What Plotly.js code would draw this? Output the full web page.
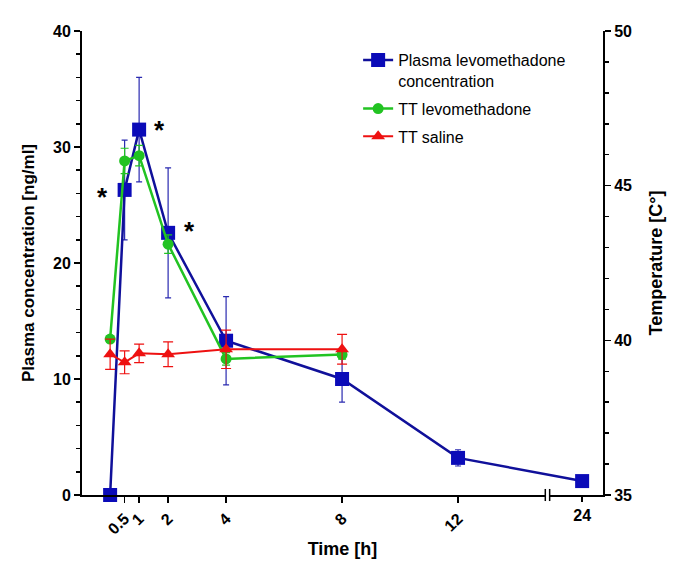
<!DOCTYPE html>
<html>
<head>
<meta charset="utf-8">
<script src="https://cdn.plot.ly/plotly-3.0.1.min.js"></script>
<style>html,body{margin:0;padding:0;background:#fff;}#chart{width:685px;height:573px;}</style>
</head>
<body>
<div id="chart"></div>
<script>
// ---- data ----
const plasmaTimes = [0, 0.5, 1, 2, 4, 8, 12, 24];
const plasmaConc = [0, 26.3, 31.5, 22.6, 13.3, 10.0, 3.2, 1.2];
const plasmaSD = [0, 4.3, 4.5, 5.6, 3.8, 2.0, 0.7, 0];

const ttTimes = [0, 0.5, 1, 2, 4, 8];
const ttLevo = [40.04, 45.80, 45.97, 43.11, 39.40, 39.54];
const ttLevoSD = [0.1, 0.41, 0.33, 0.3, 0.2, 0.15];
const ttSaline = [39.55, 39.29, 39.58, 39.55, 39.71, 39.71];
const ttSalineSD = [0.49, 0.37, 0.3, 0.4, 0.62, 0.48];

const mainTicks = [0.5, 1, 2, 4, 8, 12];
const mainTickText = ['0.5', '1', '2', '4', '8', '12'];
const farTicks = [24];
const farTickText = ['24'];

// significance marks: [time, value]
const starPoints = [[0.5, 26.3], [1, 31.5], [2, 22.6]];

// ---- broken axis transform ----
const BRK = 15.07, SQUEEZE = 0.1355;
function pos(t) { return t <= BRK ? t : BRK + (t - BRK) * SQUEEZE; }

const blue = '#0b0bb8', green = '#22c322', red = '#ee1111';
const FONT = 'Liberation Sans, Arial, sans-serif';

const traces = [
  {
    x: plasmaTimes.map(pos), y: plasmaConc, xaxis: 'x', yaxis: 'y',
    name: 'Plasma levomethadone<br>concentration', legendgroup: 'a',
    mode: 'lines+markers', cliponaxis: false,
    line: {color: '#10109a', width: 2.5},
    marker: {symbol: 'square', size: 14, color: blue},
    error_y: {type: 'data', array: plasmaSD, visible: true, color: '#2a2ab0', thickness: 1.2, width: 3}
  },
  {
    x: ttTimes.map(pos), y: ttLevo, xaxis: 'x', yaxis: 'y2',
    name: 'TT levomethadone', legendgroup: 'b',
    mode: 'lines+markers', cliponaxis: false,
    line: {color: green, width: 2.5},
    marker: {symbol: 'circle', size: 11, color: green},
    error_y: {type: 'data', array: ttLevoSD, visible: true, color: green, thickness: 1.2, width: 4}
  },
  {
    x: ttTimes.map(pos), y: ttSaline, xaxis: 'x', yaxis: 'y2',
    name: 'TT saline', legendgroup: 'c',
    mode: 'lines+markers', cliponaxis: false,
    line: {color: red, width: 2},
    marker: {symbol: 'triangle-up', size: 12, color: red},
    error_y: {type: 'data', array: ttSalineSD, visible: true, color: red, thickness: 1.2, width: 5}
  },
  // invisible helper trace anchoring the far-segment axis
  {
    x: farTicks.map(pos), y: [null], xaxis: 'x2', yaxis: 'y', showlegend: false,
    mode: 'markers', hoverinfo: 'skip', marker: {opacity: 0}
  }
];

const xRange = [-0.97, 17.0];
const tickFont = {family: FONT, size: 16, color: '#000', weight: 'bold'};
const titleFont = {family: FONT, size: 18, color: '#000', weight: 'bold'};

const annotations = starPoints.map((p, i) => ({
  x: pos(p[0]), y: p[1], xref: 'x', yref: 'y',
  text: '*', showarrow: false,
  xshift: [-22, 20, 21][i], yshift: [-7, 0, 2][i],
  font: {family: FONT, size: 26, color: '#000', weight: 'bold'}
}));

const gapL = pos(BRK) - 0.06, gapR = pos(BRK) + 0.09;
const shapes = [
  {type: 'rect', xref: 'x', yref: 'paper', x0: gapL, x1: gapR, y0: -0.006, y1: 0.006,
   fillcolor: '#fff', line: {width: 0}, layer: 'above'},
  {type: 'line', xref: 'x', yref: 'paper', x0: gapL, x1: gapL, y0: -0.013, y1: 0.013,
   line: {color: '#000', width: 1.5}, layer: 'above'},
  {type: 'line', xref: 'x', yref: 'paper', x0: gapR, x1: gapR, y0: -0.013, y1: 0.013,
   line: {color: '#000', width: 1.5}, layer: 'above'}
];

const layout = {
  width: 685, height: 573,
  margin: {l: 82, r: 82, t: 31, b: 78},
  paper_bgcolor: '#fff', plot_bgcolor: '#fff',
  showlegend: true,
  legend: {x: 0.53, y: 0.974, xanchor: 'left', yanchor: 'top', valign: 'top',
           font: {family: FONT, size: 16, color: '#000'}, tracegroupgap: 4,
           traceorder: 'grouped', bgcolor: 'rgba(0,0,0,0)'},
  xaxis: {
    range: xRange, showgrid: false, zeroline: false,
    showline: true, linecolor: '#000', linewidth: 2,
    ticks: 'outside', ticklen: 6, tickwidth: 1.5, tickcolor: '#000',
    tickvals: mainTicks.map(pos), ticktext: mainTickText, tickangle: -45,
    tickfont: tickFont,
    title: {text: 'Time [h]', font: titleFont, standoff: 6}
  },
  xaxis2: {
    overlaying: 'x', anchor: 'y', side: 'bottom', range: xRange,
    showgrid: false, zeroline: false, showline: false,
    ticks: 'outside', ticklen: 6, tickwidth: 1.5, tickcolor: '#000',
    tickvals: farTicks.map(pos), ticktext: farTickText, tickangle: 0,
    tickfont: tickFont
  },
  yaxis: {
    range: [0, 40], dtick: 10, showgrid: false, zeroline: false,
    showline: true, linecolor: '#000', linewidth: 2,
    ticks: 'outside', ticklen: 6, tickwidth: 1.5, tickcolor: '#000',
    minor: {dtick: 2, ticks: 'outside', ticklen: 4, tickwidth: 1.5, tickcolor: '#000', showgrid: false},
    tickfont: tickFont,
    title: {text: 'Plasma concentration [ng/ml]', font: {family: FONT, size: 17, color: '#000', weight: 'bold'}, standoff: 14}
  },
  yaxis2: {
    overlaying: 'y', side: 'right', anchor: 'x',
    range: [35, 50], dtick: 5, showgrid: false, zeroline: false,
    showline: true, linecolor: '#000', linewidth: 2,
    ticks: 'outside', ticklen: 6, tickwidth: 1.5, tickcolor: '#000',
    minor: {dtick: 1, ticks: 'outside', ticklen: 4, tickwidth: 1.5, tickcolor: '#000', showgrid: false},
    tickfont: tickFont,
    title: {text: 'Temperature [C°]', font: titleFont, standoff: 18}
  },
  annotations: annotations,
  shapes: shapes
};

Plotly.newPlot('chart', traces, layout, {displayModeBar: false, staticPlot: true});
</script>
</body>
</html>
